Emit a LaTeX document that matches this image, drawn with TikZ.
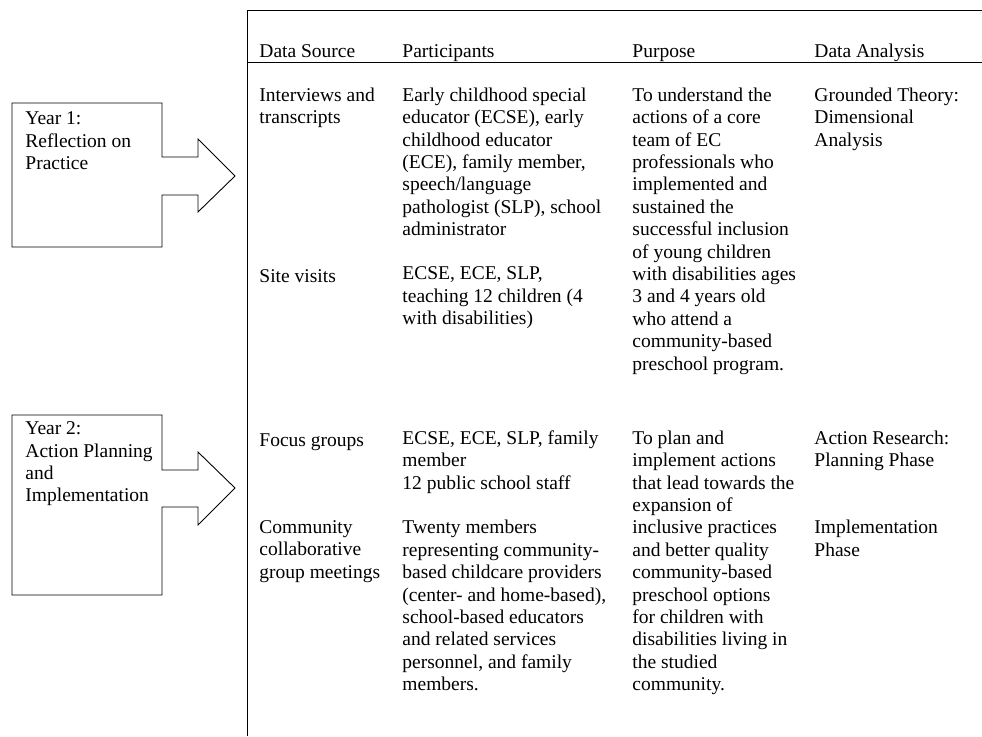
\documentclass[tikz,border=0pt]{standalone}
\usepackage{fontspec}
\setmainfont{Liberation Serif}
\begin{document}
\begin{tikzpicture}[x=1pt, y=-1pt, line width=0.9pt,
	txt/.style={anchor=north west, yshift=15.68pt, align=left, inner sep=0pt,
		font=\fontsize{19.5}{22.4}\selectfont, execute at begin node=\strut}]
	\useasboundingbox (0,0) rectangle (982,736);
	% table frame
	\draw (982,10) -- (247,10) -- (247,736);
	\draw (247,62) -- (982,62);
	\node[txt] (hsrc) at (259,57) {Data Source};
	\node[txt] (hpart) at (402,57) {Participants};
	\node[txt] (hpurp) at (632,57) {Purpose};
	\node[txt] (hanal) at (814,57) {Data Analysis};
	% year 1
	\node[txt] (s1) at (259,103) {Interviews and\\transcripts};
	\node[txt] (p1) at (402,103) {Early childhood special\\educator (ECSE), early\\childhood educator\\(ECE), family member,\\speech/language\\pathologist (SLP), school\\administrator};
	\node[txt] (u1) at (632,103) {To understand the\\actions of a core\\team of EC\\professionals who\\implemented and\\sustained the\\successful inclusion\\of young children\\with disabilities ages\\3 and 4 years old\\who attend a\\community-based\\preschool program.};
	\node[txt] (a1) at (814,103) {Grounded Theory:\\Dimensional\\Analysis};
	\node[txt] (s2) at (259,282.2) {Site visits};
	\node[txt] (p2) at (402,282.2) {ECSE, ECE, SLP,\\teaching 12 children (4\\with disabilities)};
	% year 2
	\node[txt] (s3) at (259,446) {Focus groups};
	\node[txt] (p3) at (402,446) {ECSE, ECE, SLP, family\\member\\12 public school staff};
	\node[txt] (u3) at (632,446) {To plan and\\implement actions\\that lead towards the\\expansion of\\inclusive practices\\and better quality\\community-based\\preschool options\\for children with\\disabilities living in\\the studied\\community.};
	\node[txt] (a3) at (814,446) {Action Research:\\Planning Phase};
	\node[txt] (s4) at (259,535.6) {Community\\collaborative\\group meetings};
	\node[txt] (p4) at (402,535.6) {Twenty members\\representing community-\\based childcare providers\\(center- and home-based),\\school-based educators\\and related services\\personnel, and family\\members.};
	\node[txt] (a4) at (814,535.6) {Implementation\\Phase};
	% arrow boxes
	\draw (162,157) -- (198,157) -- (198,139) -- (235,176) -- (198,212) -- (198,195) -- (162,195) -- (162,247) -- (12,247) -- (12,103) -- (162,103) -- cycle;
	\node[txt] (year1) at (25,127) {Year 1:\\Reflection on\\Practice};
	\draw (162,470) -- (198,470) -- (198,452) -- (235,488) -- (198,525) -- (198,507) -- (162,507) -- (162,595) -- (12,595) -- (12,415) -- (162,415) -- cycle;
	\node[txt] (year2) at (25,437) {Year 2:\\Action Planning\\and\\Implementation};
\end{tikzpicture}
\end{document}
